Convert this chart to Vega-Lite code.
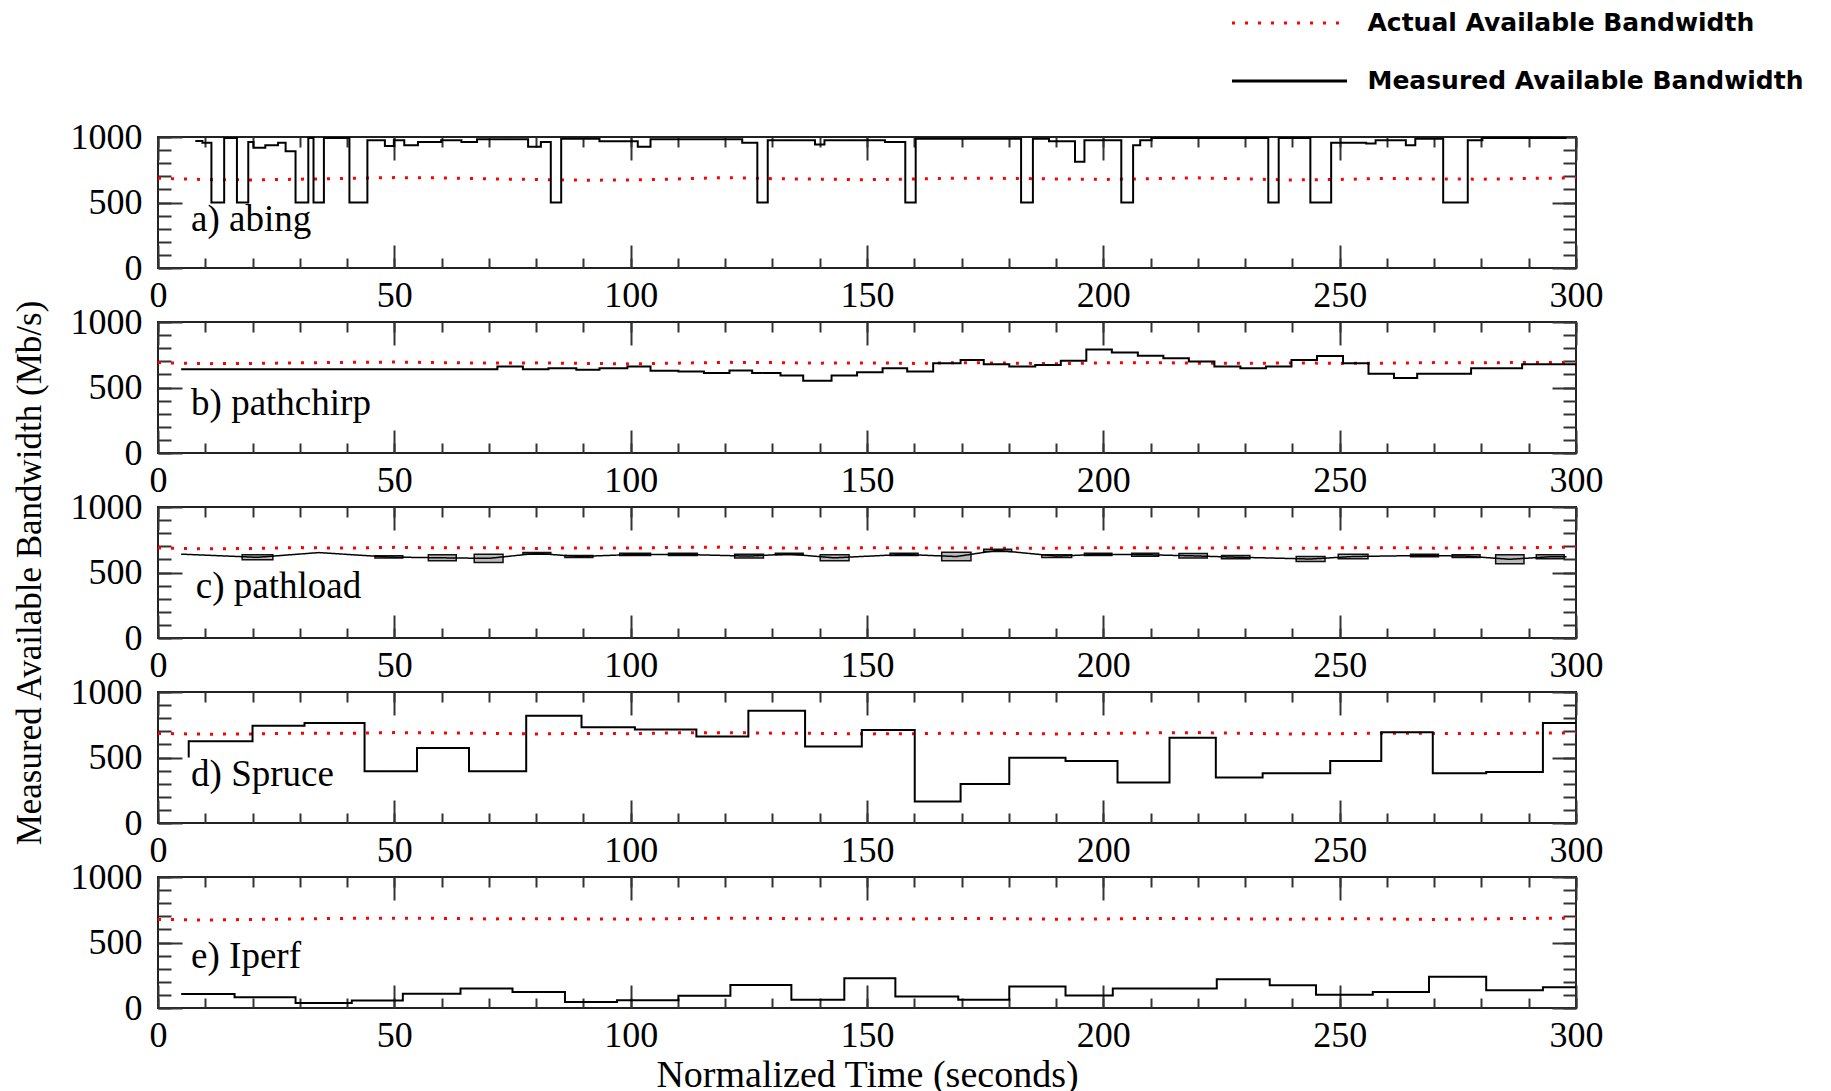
{
"$schema": "https://vega.github.io/schema/vega-lite/v6.json",
"padding": {"left": 10, "top": 10, "right": 5, "bottom": 5},
"background": "white",
"bounds": "flush",
"spacing": 54,
"datasets": {
"actual": [
{"panel":"a","t":0,"bw":685},{"panel":"a","t":10,"bw":675},{"panel":"a","t":20,"bw":672},{"panel":"a","t":30,"bw":678},{"panel":"a","t":40,"bw":684},{"panel":"a","t":50,"bw":690},{"panel":"a","t":60,"bw":688},{"panel":"a","t":70,"bw":680},{"panel":"a","t":80,"bw":676},{"panel":"a","t":90,"bw":670},{"panel":"a","t":100,"bw":672},{"panel":"a","t":110,"bw":680},{"panel":"a","t":120,"bw":690},{"panel":"a","t":130,"bw":682},{"panel":"a","t":140,"bw":678},{"panel":"a","t":150,"bw":674},{"panel":"a","t":160,"bw":680},{"panel":"a","t":170,"bw":686},{"panel":"a","t":180,"bw":684},{"panel":"a","t":190,"bw":680},{"panel":"a","t":200,"bw":676},{"panel":"a","t":210,"bw":682},{"panel":"a","t":220,"bw":688},{"panel":"a","t":230,"bw":680},{"panel":"a","t":240,"bw":672},{"panel":"a","t":250,"bw":676},{"panel":"a","t":260,"bw":684},{"panel":"a","t":270,"bw":680},{"panel":"a","t":280,"bw":678},{"panel":"a","t":290,"bw":684},{"panel":"a","t":300,"bw":688},
{"panel":"b","t":0,"bw":690},{"panel":"b","t":10,"bw":682},{"panel":"b","t":20,"bw":684},{"panel":"b","t":30,"bw":688},{"panel":"b","t":40,"bw":692},{"panel":"b","t":50,"bw":694},{"panel":"b","t":60,"bw":690},{"panel":"b","t":70,"bw":686},{"panel":"b","t":80,"bw":688},{"panel":"b","t":90,"bw":684},{"panel":"b","t":100,"bw":680},{"panel":"b","t":110,"bw":686},{"panel":"b","t":120,"bw":692},{"panel":"b","t":130,"bw":690},{"panel":"b","t":140,"bw":686},{"panel":"b","t":150,"bw":688},{"panel":"b","t":160,"bw":684},{"panel":"b","t":170,"bw":690},{"panel":"b","t":180,"bw":686},{"panel":"b","t":190,"bw":682},{"panel":"b","t":200,"bw":688},{"panel":"b","t":210,"bw":690},{"panel":"b","t":220,"bw":686},{"panel":"b","t":230,"bw":684},{"panel":"b","t":240,"bw":688},{"panel":"b","t":250,"bw":684},{"panel":"b","t":260,"bw":686},{"panel":"b","t":270,"bw":690},{"panel":"b","t":280,"bw":688},{"panel":"b","t":290,"bw":692},{"panel":"b","t":300,"bw":690},
{"panel":"c","t":0,"bw":688},{"panel":"c","t":10,"bw":680},{"panel":"c","t":20,"bw":684},{"panel":"c","t":30,"bw":690},{"panel":"c","t":40,"bw":686},{"panel":"c","t":50,"bw":692},{"panel":"c","t":60,"bw":688},{"panel":"c","t":70,"bw":690},{"panel":"c","t":80,"bw":684},{"panel":"c","t":90,"bw":688},{"panel":"c","t":100,"bw":686},{"panel":"c","t":110,"bw":692},{"panel":"c","t":120,"bw":694},{"panel":"c","t":130,"bw":688},{"panel":"c","t":140,"bw":684},{"panel":"c","t":150,"bw":690},{"panel":"c","t":160,"bw":686},{"panel":"c","t":170,"bw":688},{"panel":"c","t":180,"bw":684},{"panel":"c","t":190,"bw":686},{"panel":"c","t":200,"bw":690},{"panel":"c","t":210,"bw":688},{"panel":"c","t":220,"bw":686},{"panel":"c","t":230,"bw":690},{"panel":"c","t":240,"bw":684},{"panel":"c","t":250,"bw":688},{"panel":"c","t":260,"bw":690},{"panel":"c","t":270,"bw":686},{"panel":"c","t":280,"bw":688},{"panel":"c","t":290,"bw":690},{"panel":"c","t":300,"bw":694},
{"panel":"d","t":0,"bw":684},{"panel":"d","t":10,"bw":678},{"panel":"d","t":20,"bw":680},{"panel":"d","t":30,"bw":686},{"panel":"d","t":40,"bw":684},{"panel":"d","t":50,"bw":690},{"panel":"d","t":60,"bw":688},{"panel":"d","t":70,"bw":684},{"panel":"d","t":80,"bw":680},{"panel":"d","t":90,"bw":684},{"panel":"d","t":100,"bw":682},{"panel":"d","t":110,"bw":688},{"panel":"d","t":120,"bw":690},{"panel":"d","t":130,"bw":686},{"panel":"d","t":140,"bw":684},{"panel":"d","t":150,"bw":680},{"panel":"d","t":160,"bw":682},{"panel":"d","t":170,"bw":686},{"panel":"d","t":180,"bw":684},{"panel":"d","t":190,"bw":680},{"panel":"d","t":200,"bw":684},{"panel":"d","t":210,"bw":688},{"panel":"d","t":220,"bw":690},{"panel":"d","t":230,"bw":684},{"panel":"d","t":240,"bw":680},{"panel":"d","t":250,"bw":682},{"panel":"d","t":260,"bw":686},{"panel":"d","t":270,"bw":684},{"panel":"d","t":280,"bw":682},{"panel":"d","t":290,"bw":686},{"panel":"d","t":300,"bw":688},
{"panel":"e","t":0,"bw":676},{"panel":"e","t":10,"bw":672},{"panel":"e","t":20,"bw":676},{"panel":"e","t":30,"bw":680},{"panel":"e","t":40,"bw":684},{"panel":"e","t":50,"bw":686},{"panel":"e","t":60,"bw":684},{"panel":"e","t":70,"bw":680},{"panel":"e","t":80,"bw":682},{"panel":"e","t":90,"bw":680},{"panel":"e","t":100,"bw":678},{"panel":"e","t":110,"bw":682},{"panel":"e","t":120,"bw":686},{"panel":"e","t":130,"bw":684},{"panel":"e","t":140,"bw":680},{"panel":"e","t":150,"bw":682},{"panel":"e","t":160,"bw":680},{"panel":"e","t":170,"bw":684},{"panel":"e","t":180,"bw":682},{"panel":"e","t":190,"bw":678},{"panel":"e","t":200,"bw":680},{"panel":"e","t":210,"bw":684},{"panel":"e","t":220,"bw":682},{"panel":"e","t":230,"bw":680},{"panel":"e","t":240,"bw":678},{"panel":"e","t":250,"bw":682},{"panel":"e","t":260,"bw":680},{"panel":"e","t":270,"bw":676},{"panel":"e","t":280,"bw":680},{"panel":"e","t":290,"bw":684},{"panel":"e","t":300,"bw":686}
],
"measured": [
{"panel":"a","t":7.9,"bw":970},{"panel":"a","t":9.4,"bw":957},{"panel":"a","t":11.3,"bw":500},{"panel":"a","t":14.0,"bw":992},{"panel":"a","t":16.7,"bw":500},{"panel":"a","t":19.1,"bw":962},{"panel":"a","t":20.2,"bw":917},{"panel":"a","t":22.7,"bw":937},{"panel":"a","t":25.4,"bw":957},{"panel":"a","t":27.0,"bw":892},{"panel":"a","t":29.1,"bw":500},{"panel":"a","t":31.8,"bw":992},{"panel":"a","t":32.9,"bw":500},{"panel":"a","t":35.1,"bw":992},{"panel":"a","t":40.5,"bw":500},{"panel":"a","t":44.3,"bw":975},{"panel":"a","t":48.0,"bw":932},{"panel":"a","t":49.9,"bw":975},{"panel":"a","t":52.1,"bw":937},{"panel":"a","t":55.0,"bw":962},{"panel":"a","t":59.9,"bw":975},{"panel":"a","t":64.2,"bw":962},{"panel":"a","t":67.5,"bw":982},{"panel":"a","t":78.3,"bw":925},{"panel":"a","t":81.0,"bw":962},{"panel":"a","t":83.1,"bw":500},{"panel":"a","t":85.3,"bw":987},{"panel":"a","t":93.4,"bw":967},{"panel":"a","t":101.5,"bw":925},{"panel":"a","t":104.2,"bw":982},{"panel":"a","t":123.6,"bw":957},{"panel":"a","t":126.8,"bw":500},{"panel":"a","t":129.0,"bw":975},{"panel":"a","t":139.0,"bw":942},{"panel":"a","t":141.0,"bw":975},{"panel":"a","t":153.8,"bw":962},{"panel":"a","t":158.1,"bw":500},{"panel":"a","t":160.3,"bw":987},{"panel":"a","t":182.6,"bw":500},{"panel":"a","t":185.1,"bw":987},{"panel":"a","t":188.5,"bw":967},{"panel":"a","t":194.0,"bw":812},{"panel":"a","t":196.0,"bw":975},{"panel":"a","t":203.8,"bw":500},{"panel":"a","t":206.3,"bw":937},{"panel":"a","t":207.8,"bw":975},{"panel":"a","t":210.2,"bw":992},{"panel":"a","t":234.9,"bw":500},{"panel":"a","t":237.1,"bw":992},{"panel":"a","t":243.8,"bw":500},{"panel":"a","t":248.2,"bw":957},{"panel":"a","t":255.6,"bw":950},{"panel":"a","t":257.6,"bw":975},{"panel":"a","t":264.0,"bw":937},{"panel":"a","t":266.0,"bw":987},{"panel":"a","t":271.9,"bw":500},{"panel":"a","t":277.1,"bw":975},{"panel":"a","t":280.2,"bw":992},{"panel":"a","t":298.0,"bw":992},
{"panel":"b","t":4.9,"bw":640},{"panel":"b","t":71.8,"bw":660},{"panel":"b","t":77.2,"bw":640},{"panel":"b","t":82.6,"bw":647},{"panel":"b","t":88.5,"bw":635},{"panel":"b","t":93.4,"bw":647},{"panel":"b","t":99.3,"bw":660},{"panel":"b","t":104.2,"bw":627},{"panel":"b","t":110.1,"bw":622},{"panel":"b","t":115.5,"bw":610},{"panel":"b","t":120.9,"bw":630},{"panel":"b","t":125.7,"bw":610},{"panel":"b","t":131.7,"bw":592},{"panel":"b","t":136.5,"bw":552},{"panel":"b","t":142.5,"bw":592},{"panel":"b","t":147.9,"bw":617},{"panel":"b","t":153.3,"bw":647},{"panel":"b","t":158.5,"bw":622},{"panel":"b","t":164.0,"bw":685},{"panel":"b","t":169.8,"bw":710},{"panel":"b","t":174.7,"bw":678},{"panel":"b","t":180.1,"bw":660},{"panel":"b","t":185.6,"bw":672},{"panel":"b","t":191.0,"bw":705},{"panel":"b","t":196.4,"bw":791},{"panel":"b","t":201.8,"bw":768},{"panel":"b","t":207.3,"bw":743},{"panel":"b","t":212.7,"bw":723},{"panel":"b","t":218.1,"bw":698},{"panel":"b","t":223.5,"bw":660},{"panel":"b","t":229.0,"bw":647},{"panel":"b","t":234.4,"bw":660},{"panel":"b","t":239.8,"bw":710},{"panel":"b","t":245.2,"bw":741},{"panel":"b","t":250.7,"bw":685},{"panel":"b","t":256.1,"bw":605},{"panel":"b","t":261.5,"bw":572},{"panel":"b","t":266.4,"bw":605},{"panel":"b","t":277.8,"bw":647},{"panel":"b","t":288.6,"bw":678},{"panel":"b","t":300,"bw":678},
{"panel":"c","t":4.9,"bw":640},{"panel":"c","t":21,"bw":616},{"panel":"c","t":34,"bw":652},{"panel":"c","t":48.8,"bw":618},{"panel":"c","t":60.1,"bw":612},{"panel":"c","t":70,"bw":608},{"panel":"c","t":80.1,"bw":646},{"panel":"c","t":89,"bw":622},{"panel":"c","t":101,"bw":638},{"panel":"c","t":111,"bw":638},{"panel":"c","t":125,"bw":625},{"panel":"c","t":133.5,"bw":641},{"panel":"c","t":143.1,"bw":612},{"panel":"c","t":157.8,"bw":638},{"panel":"c","t":168.9,"bw":622},{"panel":"c","t":177.6,"bw":669},{"panel":"c","t":190.1,"bw":625},{"panel":"c","t":198.9,"bw":638},{"panel":"c","t":208.8,"bw":636},{"panel":"c","t":219,"bw":627},{"panel":"c","t":228,"bw":617},{"panel":"c","t":243.8,"bw":603},{"panel":"c","t":252.8,"bw":622},{"panel":"c","t":268,"bw":630},{"panel":"c","t":276.7,"bw":625},{"panel":"c","t":286,"bw":601},{"panel":"c","t":294.5,"bw":620},{"panel":"c","t":298,"bw":620},
{"panel":"d","t":6.5,"bw":500},{"panel":"d","t":6.5,"bw":625},{"panel":"d","t":20.0,"bw":743},{"panel":"d","t":31.0,"bw":763},{"panel":"d","t":43.7,"bw":395},{"panel":"d","t":54.8,"bw":572},{"panel":"d","t":65.8,"bw":395},{"panel":"d","t":77.9,"bw":819},{"panel":"d","t":89.6,"bw":730},{"panel":"d","t":100.9,"bw":713},{"panel":"d","t":113.9,"bw":660},{"panel":"d","t":124.9,"bw":856},{"panel":"d","t":136.9,"bw":584},{"panel":"d","t":148.9,"bw":710},{"panel":"d","t":160.1,"bw":164},{"panel":"d","t":169.8,"bw":297},{"panel":"d","t":180.1,"bw":499},{"panel":"d","t":192.0,"bw":474},{"panel":"d","t":203.0,"bw":310},{"panel":"d","t":214.0,"bw":650},{"panel":"d","t":223.8,"bw":348},{"panel":"d","t":233.7,"bw":380},{"panel":"d","t":248.0,"bw":474},{"panel":"d","t":258.8,"bw":693},{"panel":"d","t":269.7,"bw":380},{"panel":"d","t":281.0,"bw":390},{"panel":"d","t":293.0,"bw":763},{"panel":"d","t":300,"bw":763},
{"panel":"e","t":4.9,"bw":106},{"panel":"e","t":16.2,"bw":83},{"panel":"e","t":29.1,"bw":38},{"panel":"e","t":41.0,"bw":58},{"panel":"e","t":51.8,"bw":108},{"panel":"e","t":64.0,"bw":149},{"panel":"e","t":75.0,"bw":123},{"panel":"e","t":86.1,"bw":45},{"panel":"e","t":97.1,"bw":60},{"panel":"e","t":110.1,"bw":93},{"panel":"e","t":121.1,"bw":176},{"panel":"e","t":134.0,"bw":63},{"panel":"e","t":145.2,"bw":227},{"panel":"e","t":156.0,"bw":88},{"panel":"e","t":169.3,"bw":63},{"panel":"e","t":180.1,"bw":164},{"panel":"e","t":192.0,"bw":96},{"panel":"e","t":202.0,"bw":149},{"panel":"e","t":224.0,"bw":219},{"panel":"e","t":235.2,"bw":174},{"panel":"e","t":245.0,"bw":101},{"panel":"e","t":257.0,"bw":123},{"panel":"e","t":268.9,"bw":239},{"panel":"e","t":281.0,"bw":136},{"panel":"e","t":293.0,"bw":159},{"panel":"e","t":300,"bw":159}
],
"ranges": [
{"t0":17.8,"t1":24.3,"lo":597,"hi":635},{"t0":45.9,"t1":51.8,"lo":610,"hi":627},{"t0":57.2,"t1":63.1,"lo":589,"hi":635},{"t0":66.9,"t1":73.0,"lo":577,"hi":640},{"t0":77.2,"t1":83.1,"lo":640,"hi":652},{"t0":86.1,"t1":92.0,"lo":615,"hi":630},{"t0":97.7,"t1":104.2,"lo":630,"hi":647},{"t0":108.0,"t1":114.1,"lo":630,"hi":647},{"t0":122.0,"t1":128.1,"lo":610,"hi":640},{"t0":130.6,"t1":136.5,"lo":635,"hi":647},{"t0":140.1,"t1":146.2,"lo":589,"hi":635},{"t0":154.9,"t1":160.8,"lo":630,"hi":647},{"t0":165.8,"t1":172.0,"lo":589,"hi":655},{"t0":174.7,"t1":180.6,"lo":660,"hi":678},{"t0":187.0,"t1":193.3,"lo":615,"hi":635},{"t0":196.0,"t1":201.8,"lo":630,"hi":647},{"t0":206.0,"t1":211.7,"lo":625,"hi":647},{"t0":216.0,"t1":222.0,"lo":610,"hi":645},{"t0":225.0,"t1":231.0,"lo":605,"hi":630},{"t0":240.8,"t1":246.9,"lo":584,"hi":622},{"t0":249.7,"t1":256.0,"lo":605,"hi":640},{"t0":265.0,"t1":270.9,"lo":620,"hi":640},{"t0":273.8,"t1":279.7,"lo":615,"hi":635},{"t0":283.0,"t1":289.0,"lo":567,"hi":635},{"t0":291.6,"t1":297.5,"lo":605,"hi":635}
]
},
"vconcat": [
{
"width": 1418, "height": 131,
"resolve": {"axis": {"x": "independent", "y": "independent"}},
"layer": [
{"data": {"name": "actual"}, "transform": [{"filter": "datum.panel === 'a'"}],
 "mark": {"type": "line", "strokeWidth": 3},
 "encoding": {
  "x": {"field": "t", "type": "quantitative", "scale": {"domain": [0, 300], "nice": false, "zero": false}, "axis": {"orient": "bottom", "values": [0,50,100,150,200,250,300], "tickSize": -23, "labelPadding": 33, "title": null}},
  "y": {"field": "bw", "type": "quantitative", "scale": {"domain": [0, 1000], "nice": false}, "axis": {"orient": "left", "values": [0,500,1000], "format": "d", "tickSize": -24, "labelPadding": 40, "title": null}},
  "color": {"datum": "Actual Available Bandwidth", "type": "nominal", "scale": {"domain": ["Actual Available Bandwidth", "Measured  Available Bandwidth"], "range": ["#ff0000", "#000000"]}, "legend": {"title": null, "orient": "none", "legendX": 1074, "legendY": -127, "direction": "vertical"}},
  "strokeDash": {"datum": "Actual Available Bandwidth", "type": "nominal", "scale": {"domain": ["Actual Available Bandwidth", "Measured  Available Bandwidth"], "range": [[3, 10], [1, 0]]}, "legend": {"title": null, "orient": "none", "legendX": 1074, "legendY": -127, "direction": "vertical"}}
 }},
{"data": {"name": "measured"}, "transform": [{"filter": "datum.panel === 'a'"}],
 "mark": {"type": "line", "interpolate": "step-after", "strokeWidth": 2},
 "encoding": {
  "x": {"field": "t", "type": "quantitative", "scale": {"domain": [0, 300], "nice": false, "zero": false}, "axis": {"orient": "bottom", "values": [0,10,20,30,40,50,60,70,80,90,100,110,120,130,140,150,160,170,180,190,200,210,220,230,240,250,260,270,280,290,300], "tickSize": -10, "labels": false, "title": null}},
  "y": {"field": "bw", "type": "quantitative", "scale": {"domain": [0, 1000], "nice": false}, "axis": {"orient": "left", "values": [0,100,200,300,400,500,600,700,800,900,1000], "tickSize": -13, "labels": false, "title": null}},
  "color": {"datum": "Measured  Available Bandwidth", "type": "nominal"},
  "strokeDash": {"datum": "Measured  Available Bandwidth", "type": "nominal"}
 }},
{"data": {"values": []}, "mark": "point",
 "encoding": {
  "x": {"field": "t", "type": "quantitative", "scale": {"domain": [0, 300], "nice": false, "zero": false}, "axis": {"orient": "top", "values": [0,50,100,150,200,250,300], "tickSize": -23, "labels": false, "title": null}},
  "y": {"field": "bw", "type": "quantitative", "scale": {"domain": [0, 1000], "nice": false}, "axis": {"orient": "right", "values": [0,500,1000], "tickSize": -24, "labels": false, "title": null}}
 }},
{"data": {"values": []}, "mark": "point",
 "encoding": {
  "x": {"field": "t", "type": "quantitative", "scale": {"domain": [0, 300], "nice": false, "zero": false}, "axis": {"orient": "top", "values": [0,10,20,30,40,50,60,70,80,90,100,110,120,130,140,150,160,170,180,190,200,210,220,230,240,250,260,270,280,290,300], "tickSize": -10, "labels": false, "title": null}},
  "y": {"field": "bw", "type": "quantitative", "scale": {"domain": [0, 1000], "nice": false}, "axis": {"orient": "right", "values": [0,100,200,300,400,500,600,700,800,900,1000], "tickSize": -13, "labels": false, "title": null}}
 }},
{"data": {"values": [{"label": "a) abing"}]},
 "mark": {"type": "text", "align": "left", "baseline": "middle", "font": "Liberation Serif", "fontSize": 37, "color": "#000"},
 "encoding": {"x": {"datum": 7, "type": "quantitative", "axis": null}, "y": {"datum": 366, "type": "quantitative", "axis": null}, "text": {"field": "label"}}}
]
},
{
"width": 1418, "height": 131,
"resolve": {"axis": {"x": "independent", "y": "independent"}},
"layer": [
{"data": {"name": "actual"}, "transform": [{"filter": "datum.panel === 'b'"}],
 "mark": {"type": "line", "strokeWidth": 3},
 "encoding": {
  "x": {"field": "t", "type": "quantitative", "scale": {"domain": [0, 300], "nice": false, "zero": false}, "axis": {"orient": "bottom", "values": [0,50,100,150,200,250,300], "tickSize": -23, "labelPadding": 33, "title": null}},
  "y": {"field": "bw", "type": "quantitative", "scale": {"domain": [0, 1000], "nice": false}, "axis": {"orient": "left", "values": [0,500,1000], "format": "d", "tickSize": -24, "labelPadding": 40, "title": null}},
  "color": {"datum": "Actual Available Bandwidth", "type": "nominal"},
  "strokeDash": {"datum": "Actual Available Bandwidth", "type": "nominal"}
 }},
{"data": {"name": "measured"}, "transform": [{"filter": "datum.panel === 'b'"}],
 "mark": {"type": "line", "interpolate": "step-after", "strokeWidth": 2},
 "encoding": {
  "x": {"field": "t", "type": "quantitative", "scale": {"domain": [0, 300], "nice": false, "zero": false}, "axis": {"orient": "bottom", "values": [0,10,20,30,40,50,60,70,80,90,100,110,120,130,140,150,160,170,180,190,200,210,220,230,240,250,260,270,280,290,300], "tickSize": -10, "labels": false, "title": null}},
  "y": {"field": "bw", "type": "quantitative", "scale": {"domain": [0, 1000], "nice": false}, "axis": {"orient": "left", "values": [0,100,200,300,400,500,600,700,800,900,1000], "tickSize": -13, "labels": false, "title": null}},
  "color": {"datum": "Measured  Available Bandwidth", "type": "nominal"},
  "strokeDash": {"datum": "Measured  Available Bandwidth", "type": "nominal"}
 }},
{"data": {"values": []}, "mark": "point",
 "encoding": {
  "x": {"field": "t", "type": "quantitative", "scale": {"domain": [0, 300], "nice": false, "zero": false}, "axis": {"orient": "top", "values": [0,50,100,150,200,250,300], "tickSize": -23, "labels": false, "title": null}},
  "y": {"field": "bw", "type": "quantitative", "scale": {"domain": [0, 1000], "nice": false}, "axis": {"orient": "right", "values": [0,500,1000], "tickSize": -24, "labels": false, "title": null}}
 }},
{"data": {"values": []}, "mark": "point",
 "encoding": {
  "x": {"field": "t", "type": "quantitative", "scale": {"domain": [0, 300], "nice": false, "zero": false}, "axis": {"orient": "top", "values": [0,10,20,30,40,50,60,70,80,90,100,110,120,130,140,150,160,170,180,190,200,210,220,230,240,250,260,270,280,290,300], "tickSize": -10, "labels": false, "title": null}},
  "y": {"field": "bw", "type": "quantitative", "scale": {"domain": [0, 1000], "nice": false}, "axis": {"orient": "right", "values": [0,100,200,300,400,500,600,700,800,900,1000], "tickSize": -13, "labels": false, "title": null}}
 }},
{"data": {"values": [{"label": "b) pathchirp"}]},
 "mark": {"type": "text", "align": "left", "baseline": "middle", "font": "Liberation Serif", "fontSize": 37, "color": "#000"},
 "encoding": {"x": {"datum": 7, "type": "quantitative", "axis": null}, "y": {"datum": 374, "type": "quantitative", "axis": null}, "text": {"field": "label"}}}
]
},
{
"width": 1418, "height": 131,
"resolve": {"axis": {"x": "independent", "y": "independent"}},
"layer": [
{"data": {"name": "actual"}, "transform": [{"filter": "datum.panel === 'c'"}],
 "mark": {"type": "line", "strokeWidth": 3},
 "encoding": {
  "x": {"field": "t", "type": "quantitative", "scale": {"domain": [0, 300], "nice": false, "zero": false}, "axis": {"orient": "bottom", "values": [0,50,100,150,200,250,300], "tickSize": -23, "labelPadding": 33, "title": null}},
  "y": {"field": "bw", "type": "quantitative", "scale": {"domain": [0, 1000], "nice": false}, "axis": {"orient": "left", "values": [0,500,1000], "format": "d", "tickSize": -24, "labelPadding": 40, "title": "Measured Available Bandwidth (Mb/s)", "titleX": -111, "titleY": 65.5, "titleAngle": 270, "titleBaseline": "bottom", "titleAlign": "center"}},
  "color": {"datum": "Actual Available Bandwidth", "type": "nominal"},
  "strokeDash": {"datum": "Actual Available Bandwidth", "type": "nominal"}
 }},
{"data": {"name": "ranges"},
 "mark": {"type": "rect", "fill": "#777777", "fillOpacity": 0.5, "stroke": "#111111", "strokeWidth": 1.5},
 "encoding": {
  "x": {"field": "t0", "type": "quantitative", "axis": null},
  "x2": {"field": "t1"},
  "y": {"field": "lo", "type": "quantitative", "axis": null},
  "y2": {"field": "hi"}
 }},
{"data": {"name": "measured"}, "transform": [{"filter": "datum.panel === 'c'"}],
 "mark": {"type": "line", "strokeWidth": 1.5},
 "encoding": {
  "x": {"field": "t", "type": "quantitative", "scale": {"domain": [0, 300], "nice": false, "zero": false}, "axis": {"orient": "bottom", "values": [0,10,20,30,40,50,60,70,80,90,100,110,120,130,140,150,160,170,180,190,200,210,220,230,240,250,260,270,280,290,300], "tickSize": -10, "labels": false, "title": null}},
  "y": {"field": "bw", "type": "quantitative", "scale": {"domain": [0, 1000], "nice": false}, "axis": {"orient": "left", "values": [0,100,200,300,400,500,600,700,800,900,1000], "tickSize": -13, "labels": false, "title": null}},
  "color": {"datum": "Measured  Available Bandwidth", "type": "nominal"},
  "strokeDash": {"datum": "Measured  Available Bandwidth", "type": "nominal"}
 }},
{"data": {"values": []}, "mark": "point",
 "encoding": {
  "x": {"field": "t", "type": "quantitative", "scale": {"domain": [0, 300], "nice": false, "zero": false}, "axis": {"orient": "top", "values": [0,50,100,150,200,250,300], "tickSize": -23, "labels": false, "title": null}},
  "y": {"field": "bw", "type": "quantitative", "scale": {"domain": [0, 1000], "nice": false}, "axis": {"orient": "right", "values": [0,500,1000], "tickSize": -24, "labels": false, "title": null}}
 }},
{"data": {"values": []}, "mark": "point",
 "encoding": {
  "x": {"field": "t", "type": "quantitative", "scale": {"domain": [0, 300], "nice": false, "zero": false}, "axis": {"orient": "top", "values": [0,10,20,30,40,50,60,70,80,90,100,110,120,130,140,150,160,170,180,190,200,210,220,230,240,250,260,270,280,290,300], "tickSize": -10, "labels": false, "title": null}},
  "y": {"field": "bw", "type": "quantitative", "scale": {"domain": [0, 1000], "nice": false}, "axis": {"orient": "right", "values": [0,100,200,300,400,500,600,700,800,900,1000], "tickSize": -13, "labels": false, "title": null}}
 }},
{"data": {"values": [{"label": "c) pathload"}]},
 "mark": {"type": "text", "align": "left", "baseline": "middle", "font": "Liberation Serif", "fontSize": 37, "color": "#000"},
 "encoding": {"x": {"datum": 8, "type": "quantitative", "axis": null}, "y": {"datum": 389, "type": "quantitative", "axis": null}, "text": {"field": "label"}}}
]
},
{
"width": 1418, "height": 131,
"resolve": {"axis": {"x": "independent", "y": "independent"}},
"layer": [
{"data": {"name": "actual"}, "transform": [{"filter": "datum.panel === 'd'"}],
 "mark": {"type": "line", "strokeWidth": 3},
 "encoding": {
  "x": {"field": "t", "type": "quantitative", "scale": {"domain": [0, 300], "nice": false, "zero": false}, "axis": {"orient": "bottom", "values": [0,50,100,150,200,250,300], "tickSize": -23, "labelPadding": 33, "title": null}},
  "y": {"field": "bw", "type": "quantitative", "scale": {"domain": [0, 1000], "nice": false}, "axis": {"orient": "left", "values": [0,500,1000], "format": "d", "tickSize": -24, "labelPadding": 40, "title": null}},
  "color": {"datum": "Actual Available Bandwidth", "type": "nominal"},
  "strokeDash": {"datum": "Actual Available Bandwidth", "type": "nominal"}
 }},
{"data": {"name": "measured"}, "transform": [{"filter": "datum.panel === 'd'"}],
 "mark": {"type": "line", "interpolate": "step-after", "strokeWidth": 2},
 "encoding": {
  "x": {"field": "t", "type": "quantitative", "scale": {"domain": [0, 300], "nice": false, "zero": false}, "axis": {"orient": "bottom", "values": [0,10,20,30,40,50,60,70,80,90,100,110,120,130,140,150,160,170,180,190,200,210,220,230,240,250,260,270,280,290,300], "tickSize": -10, "labels": false, "title": null}},
  "y": {"field": "bw", "type": "quantitative", "scale": {"domain": [0, 1000], "nice": false}, "axis": {"orient": "left", "values": [0,100,200,300,400,500,600,700,800,900,1000], "tickSize": -13, "labels": false, "title": null}},
  "color": {"datum": "Measured  Available Bandwidth", "type": "nominal"},
  "strokeDash": {"datum": "Measured  Available Bandwidth", "type": "nominal"}
 }},
{"data": {"values": []}, "mark": "point",
 "encoding": {
  "x": {"field": "t", "type": "quantitative", "scale": {"domain": [0, 300], "nice": false, "zero": false}, "axis": {"orient": "top", "values": [0,50,100,150,200,250,300], "tickSize": -23, "labels": false, "title": null}},
  "y": {"field": "bw", "type": "quantitative", "scale": {"domain": [0, 1000], "nice": false}, "axis": {"orient": "right", "values": [0,500,1000], "tickSize": -24, "labels": false, "title": null}}
 }},
{"data": {"values": []}, "mark": "point",
 "encoding": {
  "x": {"field": "t", "type": "quantitative", "scale": {"domain": [0, 300], "nice": false, "zero": false}, "axis": {"orient": "top", "values": [0,10,20,30,40,50,60,70,80,90,100,110,120,130,140,150,160,170,180,190,200,210,220,230,240,250,260,270,280,290,300], "tickSize": -10, "labels": false, "title": null}},
  "y": {"field": "bw", "type": "quantitative", "scale": {"domain": [0, 1000], "nice": false}, "axis": {"orient": "right", "values": [0,100,200,300,400,500,600,700,800,900,1000], "tickSize": -13, "labels": false, "title": null}}
 }},
{"data": {"values": [{"label": "d) Spruce"}]},
 "mark": {"type": "text", "align": "left", "baseline": "middle", "font": "Liberation Serif", "fontSize": 37, "color": "#000"},
 "encoding": {"x": {"datum": 7, "type": "quantitative", "axis": null}, "y": {"datum": 366, "type": "quantitative", "axis": null}, "text": {"field": "label"}}}
]
},
{
"width": 1418, "height": 131,
"resolve": {"axis": {"x": "independent", "y": "independent"}},
"layer": [
{"data": {"name": "actual"}, "transform": [{"filter": "datum.panel === 'e'"}],
 "mark": {"type": "line", "strokeWidth": 3},
 "encoding": {
  "x": {"field": "t", "type": "quantitative", "scale": {"domain": [0, 300], "nice": false, "zero": false}, "axis": {"orient": "bottom", "values": [0,50,100,150,200,250,300], "tickSize": -23, "labelPadding": 33, "title": "Normalized Time (seconds)", "titleX": 709, "titleY": 67, "titleBaseline": "middle", "titleAlign": "center", "titleFontSize": 38}},
  "y": {"field": "bw", "type": "quantitative", "scale": {"domain": [0, 1000], "nice": false}, "axis": {"orient": "left", "values": [0,500,1000], "format": "d", "tickSize": -24, "labelPadding": 40, "title": null}},
  "color": {"datum": "Actual Available Bandwidth", "type": "nominal"},
  "strokeDash": {"datum": "Actual Available Bandwidth", "type": "nominal"}
 }},
{"data": {"name": "measured"}, "transform": [{"filter": "datum.panel === 'e'"}],
 "mark": {"type": "line", "interpolate": "step-after", "strokeWidth": 2},
 "encoding": {
  "x": {"field": "t", "type": "quantitative", "scale": {"domain": [0, 300], "nice": false, "zero": false}, "axis": {"orient": "bottom", "values": [0,10,20,30,40,50,60,70,80,90,100,110,120,130,140,150,160,170,180,190,200,210,220,230,240,250,260,270,280,290,300], "tickSize": -10, "labels": false, "title": null}},
  "y": {"field": "bw", "type": "quantitative", "scale": {"domain": [0, 1000], "nice": false}, "axis": {"orient": "left", "values": [0,100,200,300,400,500,600,700,800,900,1000], "tickSize": -13, "labels": false, "title": null}},
  "color": {"datum": "Measured  Available Bandwidth", "type": "nominal"},
  "strokeDash": {"datum": "Measured  Available Bandwidth", "type": "nominal"}
 }},
{"data": {"values": []}, "mark": "point",
 "encoding": {
  "x": {"field": "t", "type": "quantitative", "scale": {"domain": [0, 300], "nice": false, "zero": false}, "axis": {"orient": "top", "values": [0,50,100,150,200,250,300], "tickSize": -23, "labels": false, "title": null}},
  "y": {"field": "bw", "type": "quantitative", "scale": {"domain": [0, 1000], "nice": false}, "axis": {"orient": "right", "values": [0,500,1000], "tickSize": -24, "labels": false, "title": null}}
 }},
{"data": {"values": []}, "mark": "point",
 "encoding": {
  "x": {"field": "t", "type": "quantitative", "scale": {"domain": [0, 300], "nice": false, "zero": false}, "axis": {"orient": "top", "values": [0,10,20,30,40,50,60,70,80,90,100,110,120,130,140,150,160,170,180,190,200,210,220,230,240,250,260,270,280,290,300], "tickSize": -10, "labels": false, "title": null}},
  "y": {"field": "bw", "type": "quantitative", "scale": {"domain": [0, 1000], "nice": false}, "axis": {"orient": "right", "values": [0,100,200,300,400,500,600,700,800,900,1000], "tickSize": -13, "labels": false, "title": null}}
 }},
{"data": {"values": [{"label": "e) Iperf"}]},
 "mark": {"type": "text", "align": "left", "baseline": "middle", "font": "Liberation Serif", "fontSize": 37, "color": "#000"},
 "encoding": {"x": {"datum": 7, "type": "quantitative", "axis": null}, "y": {"datum": 393, "type": "quantitative", "axis": null}, "text": {"field": "label"}}}
]
}
],
"config": {
 "view": {"stroke": "#222222", "strokeWidth": 2},
 "axis": {"domain": false, "grid": false, "tickColor": "#333333", "tickWidth": 2, "labelFont": "Liberation Serif", "labelFontSize": 36, "labelColor": "#000000", "labelFlush": false, "labelOverlap": false, "titleFont": "Liberation Serif", "titleFontSize": 35, "titleFontWeight": "normal", "titleColor": "#000000"},
 "legend": {"symbolType": "M-5,0H5", "symbolSize": 529, "symbolOffset": 44.5, "symbolStrokeWidth": 3, "labelFont": "DejaVu Sans", "labelFontSize": 25, "labelFontWeight": "bold", "labelColor": "#000000", "labelOffset": 65, "rowPadding": 32, "labelLimit": 0, "padding": 0}
}
}
